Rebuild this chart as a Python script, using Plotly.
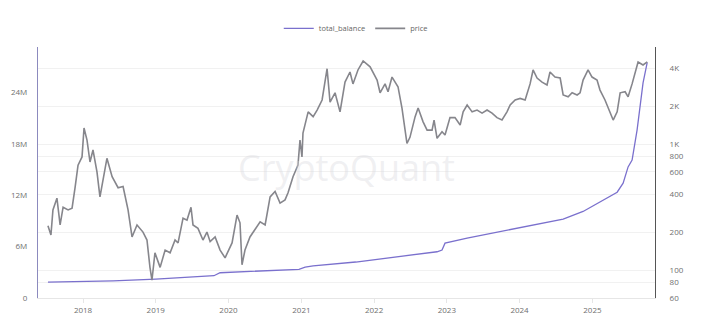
import plotly.graph_objects as go

# ---- data ----
price_dates = [
    "2017-07-09", "2017-07-24", "2017-08-03", "2017-08-23", "2017-09-08", "2017-09-23",
    "2017-10-18", "2017-11-07", "2017-11-22", "2017-12-07", "2017-12-27", "2018-01-06",
    "2018-01-21", "2018-02-05", "2018-02-20", "2018-03-12", "2018-03-27", "2018-05-01",
    "2018-05-27", "2018-06-26", "2018-07-21", "2018-08-15", "2018-09-04", "2018-09-29",
    "2018-10-29", "2018-11-18", "2018-12-03", "2018-12-13", "2018-12-28", "2019-01-23",
    "2019-02-17", "2019-03-14", "2019-04-08", "2019-04-23", "2019-05-18", "2019-06-07",
    "2019-06-27", "2019-07-07", "2019-08-01", "2019-08-26", "2019-09-15", "2019-10-01",
    "2019-10-26", "2019-11-20", "2019-12-15", "2020-01-19", "2020-02-13", "2020-02-28",
    "2020-03-09", "2020-03-24", "2020-04-18", "2020-05-13", "2020-06-08", "2020-07-03",
    "2020-07-28", "2020-08-22", "2020-09-16", "2020-10-11", "2020-10-26", "2020-11-20",
    "2020-12-15", "2020-12-25", "2021-01-04", "2021-01-09", "2021-02-04", "2021-03-01",
    "2021-03-21", "2021-04-15", "2021-05-10", "2021-05-25", "2021-06-19", "2021-07-14",
    "2021-08-08", "2021-09-02", "2021-09-17", "2021-10-12", "2021-11-07", "2021-12-12",
    "2022-01-16", "2022-01-31", "2022-02-25", "2022-03-12", "2022-04-01", "2022-05-01",
    "2022-05-21", "2022-06-15", "2022-06-30", "2022-07-26", "2022-08-10", "2022-09-04",
    "2022-09-24", "2022-10-19", "2022-10-29", "2022-11-13", "2022-12-08", "2022-12-23",
    "2023-01-17", "2023-02-11", "2023-03-09", "2023-03-24", "2023-04-13", "2023-05-08",
    "2023-06-02", "2023-06-27", "2023-07-22", "2023-08-16", "2023-09-10", "2023-10-05",
    "2023-10-30", "2023-11-15", "2023-12-10", "2024-01-04", "2024-01-29", "2024-02-23",
    "2024-03-09", "2024-03-29", "2024-04-23", "2024-05-18", "2024-06-02", "2024-06-27",
    "2024-07-23", "2024-08-07", "2024-09-01", "2024-09-21", "2024-10-16", "2024-10-31",
    "2024-11-15", "2024-12-10", "2024-12-30", "2025-01-24", "2025-02-08", "2025-03-05",
    "2025-03-31", "2025-04-15", "2025-05-05", "2025-05-20", "2025-06-14", "2025-06-29",
    "2025-07-19", "2025-08-03", "2025-08-18", "2025-09-12", "2025-10-03",
]
price_values = [
    225, 190, 300, 372, 228, 315,
    300, 310, 450, 680, 790, 1340,
    1075, 720, 897, 600, 380, 770,
    550, 450, 460, 300, 183, 228,
    200, 173, 105, 83, 137, 105,
    144, 137, 173, 164, 258, 249,
    315, 228, 214, 173, 200, 168,
    183, 144, 125, 164, 273, 237,
    110, 144, 183, 208, 241, 228,
    380, 420, 340, 360, 410, 550,
    680, 1075, 790, 1220, 1800, 1650,
    1860, 2236, 3960, 2150, 2550, 1800,
    3100, 3730, 3000, 3870, 4560, 4100,
    3220, 2550, 3000, 2600, 3400, 2850,
    1930, 1010, 1130, 1650, 1930, 1500,
    1290, 1290, 1550, 1110, 1250, 1180,
    1620, 1620, 1415, 1800, 2040, 1800,
    1860, 1760, 1860, 1760, 1620, 1550,
    1800, 2040, 2236, 2300, 2236, 3000,
    3870, 3340, 3100, 2940, 3730, 3400,
    3340, 2450, 2370, 2550, 2450, 2550,
    3220, 3870, 3400, 3220, 2680, 2236,
    1800, 1550, 1800, 2550, 2600, 2370,
    3000, 3660, 4480, 4240, 4480,
]

balance_dates = [
    "2017-07-09", "2018-06-01", "2019-01-01", "2019-09-01", "2019-10-20", "2019-11-20",
    "2020-12-20", "2021-01-20", "2021-03-01", "2021-10-01", "2022-03-01", "2022-11-13",
    "2022-12-08", "2022-12-23", "2023-04-13", "2023-10-05", "2024-08-07", "2024-11-15",
    "2025-05-05", "2025-06-04", "2025-06-29", "2025-07-19", "2025-08-13", "2025-09-12",
    "2025-10-03",
]
balance_values = [
    1.85e6, 2.0e6, 2.2e6, 2.5e6, 2.6e6, 2.95e6,
    3.35e6, 3.6e6, 3.75e6, 4.2e6, 4.66e6, 5.4e6,
    5.6e6, 6.4e6, 7.0e6, 7.8e6, 9.2e6, 10.1e6,
    12.35e6, 13.4e6, 15.3e6, 16.1e6, 19.6e6, 25.1e6,
    27.5e6,
]

left_ticks = [0, 6e6, 12e6, 18e6, 24e6]
left_labels = ["0", "6M", "12M", "18M", "24M"]
right_ticks = [60, 80, 100, 200, 400, 600, 800, 1000, 2000, 4000]
right_labels = ["60", "80", "100", "200", "400", "600", "800", "1K", "2K", "4K"]
year_ticks = ["2018-01-01", "2019-01-01", "2020-01-01", "2021-01-01",
              "2022-01-01", "2023-01-01", "2024-01-01", "2025-01-01"]
year_labels = ["2018", "2019", "2020", "2021", "2022", "2023", "2024", "2025"]

FONT = "Open Sans"
TICK_COLOR = "#6f6f6f"

fig = go.Figure()
fig.add_trace(go.Scatter(
    x=balance_dates, y=balance_values, name="total_balance", mode="lines",
    line=dict(color="rgb(122,112,205)", width=1.3), yaxis="y",
))
fig.add_trace(go.Scatter(
    x=price_dates, y=price_values, name="price", mode="lines",
    line=dict(color="rgb(134,134,140)", width=1.6), yaxis="y2",
))

fig.add_annotation(
    text="CryptoQuant", x=0.5, y=0.52, xref="paper", yref="paper",
    showarrow=False, font=dict(family=FONT, size=36, color="rgba(215,215,222,0.4)"),
)

fig.update_layout(
    width=701, height=334,
    margin=dict(l=38, r=46, t=47, b=36, autoexpand=False),
    paper_bgcolor="white", plot_bgcolor="white",
    font=dict(family=FONT, size=8, color=TICK_COLOR),
    showlegend=True,
    legend=dict(orientation="h", x=0.515, xanchor="center",
                yref="container", y=0.915, yanchor="middle",
                font=dict(size=7.5, color="#666"), itemwidth=30),
    xaxis=dict(
        type="date", range=["2017-05-20", "2025-11-11"],
        tickvals=year_ticks, ticktext=year_labels,
        showgrid=False, zeroline=False,
        showline=True, linecolor="#e6e6e6", linewidth=1,
        ticks="outside", ticklen=4, tickcolor="#e6e6e6",
        tickfont=dict(size=8, color=TICK_COLOR),
    ),
    yaxis=dict(
        range=[0, 29.3e6], tickvals=left_ticks, ticktext=left_labels,
        showgrid=False, zeroline=False,
        showline=True, linecolor="rgb(140,138,190)", linewidth=1.2,
        ticks="", ticklabelstandoff=8,
        tickfont=dict(size=8, color=TICK_COLOR),
    ),
    yaxis2=dict(
        type="log", range=[1.778, 3.770], overlaying="y", side="right",
        tickvals=right_ticks, ticktext=right_labels,
        showgrid=True, gridcolor="#f1f1f1", gridwidth=1, zeroline=False,
        showline=True, linecolor="#555", linewidth=1,
        ticks="", ticklabelstandoff=12,
        tickfont=dict(size=8, color=TICK_COLOR),
    ),
)

fig.write_html("out.html")
